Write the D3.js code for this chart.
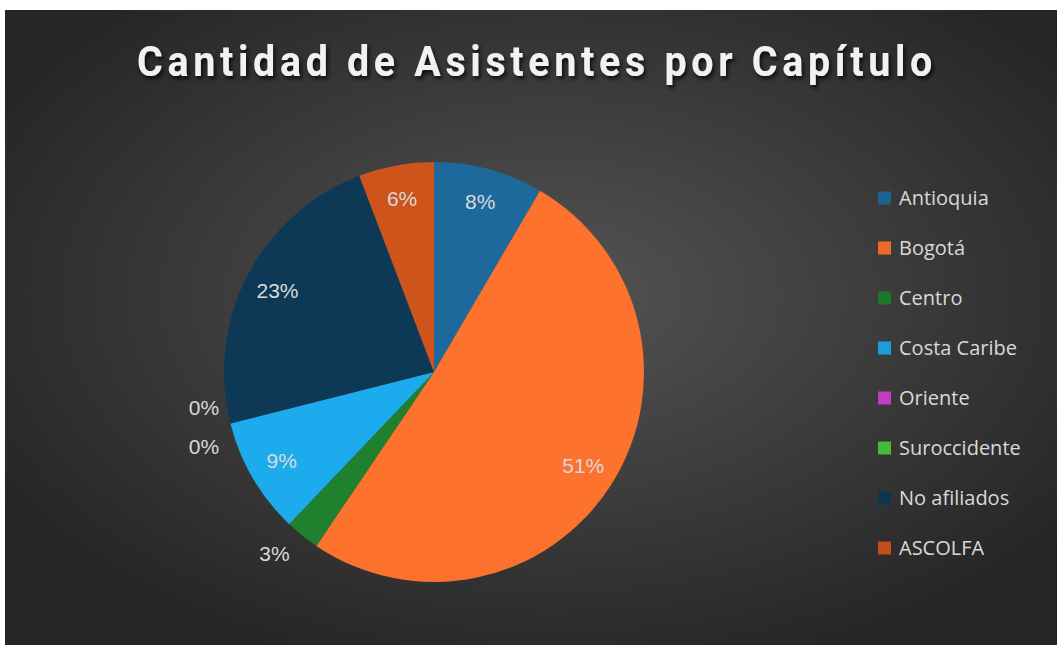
<!DOCTYPE html>
<html>
<head>
<meta charset="utf-8">
<script src="https://cdn.jsdelivr.net/npm/d3@7"></script>
<style>
  body { margin: 0; background: #ffffff; }
  #chart { display: block; }
</style>
</head>
<body>
<svg id="chart" width="1057" height="645"></svg>
<script>
//-----------------------------------------------------//

// Chart data
const title = "Cantidad de Asistentes por Capítulo";
const categories = ["Antioquia", "Bogotá", "Centro", "Costa Caribe", "Oriente", "Suroccidente", "No afiliados", "ASCOLFA"];
const attendees = [16, 97, 5, 17, 0, 0, 44, 11];
const sliceColors = ["#1c6290", "#ec6a2a", "#1d772a", "#1a9fdc", "#c03cc0", "#42bc3c", "#0d3550", "#c04e1a"];

// Layout
const width = 1057;
const height = 645;
const cx = 434;
const cy = 372;
const radius = 210;

var svg = null;
var defs = null;

//-----------------------------------------------------//

document.addEventListener("DOMContentLoaded", function()
{
  svg = d3.select("#chart");
  defs = svg.append("defs");

  drawBackground();
  drawTitle();
  drawPie();
  drawLegend();
})


function drawBackground()
{
  let bg = defs.append("radialGradient")
    .attr("id", "bg-grad")
    .attr("cx", "52%").attr("cy", "45%").attr("r", "62%");
  bg.append("stop").attr("offset", "0%").attr("stop-color", "#545454");
  bg.append("stop").attr("offset", "100%").attr("stop-color", "#252525");

  svg.append("rect")
    .attr("x", 5)
    .attr("y", 10)
    .attr("width", width - 5)
    .attr("height", height - 10)
    .attr("fill", "url(#bg-grad)");
}

function drawTitle()
{
  let shadow = defs.append("filter")
    .attr("id", "title-shadow")
    .attr("x", "-5%").attr("y", "-30%").attr("width", "110%").attr("height", "160%");
  shadow.append("feDropShadow")
    .attr("dx", 2).attr("dy", 3)
    .attr("stdDeviation", 2)
    .attr("flood-color", "#000000")
    .attr("flood-opacity", 0.75);

  svg.append("text")
    .attr("x", 537)
    .attr("y", 76)
    .attr("text-anchor", "middle")
    .attr("font-family", "Roboto, 'Liberation Sans', sans-serif")
    .attr("font-weight", "bold")
    .attr("font-size", 42)
    .attr("letter-spacing", 5)
    .attr("textLength", 800)
    .attr("lengthAdjust", "spacingAndGlyphs")
    .attr("fill", "#f2f2f2")
    .attr("filter", "url(#title-shadow)")
    .text(title);
}

function drawPie()
{
  let total = d3.sum(attendees);
  let data = categories.map((c, i) => ({ name: c, value: attendees[i], color: sliceColors[i] }));

  // One vertical gradient per slice, a bit lighter on top like the source
  data.forEach(function(d, i) {
    let g = defs.append("linearGradient")
      .attr("id", "slice-grad-" + i)
      .attr("gradientUnits", "userSpaceOnUse")
      .attr("x1", 0).attr("y1", cy - radius)
      .attr("x2", 0).attr("y2", cy + radius);
    g.append("stop").attr("offset", "0%").attr("stop-color", d3.color(d.color).brighter(0.2));
    g.append("stop").attr("offset", "100%").attr("stop-color", d3.color(d.color).darker(0.15));
  });

  let pie = d3.pie()
    .value(d => d.value)
    .sort(null);

  let arcs = pie(data);

  let arc = d3.arc()
    .innerRadius(0)
    .outerRadius(radius);

  let labelArc = d3.arc()
    .innerRadius(radius * 0.68)
    .outerRadius(radius);

  let outerArc = d3.arc()
    .innerRadius(radius * 1.11)
    .outerRadius(radius * 1.11);

  let pieGroup = svg.append("g").attr("transform", `translate(${cx},${cy})`);

  pieGroup.selectAll(".slice")
    .data(arcs)
    .enter().append("path")
    .attr("class", "slice")
    .attr("d", arc)
    .attr("fill", (d, i) => "url(#slice-grad-" + i + ")");

  // zero slices get stacked above / below each other outside the pie
  let zeroCount = 0;
  pieGroup.selectAll(".label")
    .data(arcs)
    .enter().append("text")
    .attr("class", "label")
    .attr("transform", function(d) {
      let share = d.data.value / total;
      if (share === 0) {
        let p = outerArc.centroid(d);
        let shift = zeroCount === 0 ? -22 : 17;
        zeroCount++;
        return `translate(${p[0] - 4},${p[1] + shift})`;
      }
      if (share < 0.04) {
        let p = d3.arc().innerRadius(radius * 1.15).outerRadius(radius * 1.15).centroid(d);
        return `translate(${p[0] - 8},${p[1] - 6})`;
      }
      return `translate(${labelArc.centroid(d)})`;
    })
    .attr("dy", "0.35em")
    .attr("text-anchor", "middle")
    .attr("font-family", "'Liberation Sans', Arial, sans-serif")
    .attr("font-size", 21)
    .attr("fill", "#d9d9d9")
    .text(d => Math.round(d.data.value / total * 100) + "%");
}

function drawLegend()
{
  let y = d3.scalePoint()
    .domain(categories)
    .range([198, 548]);

  let legend = svg.append("g").attr("class", "legend");

  let item = legend.selectAll(".item")
    .data(categories)
    .enter().append("g")
    .attr("class", "item")
    .attr("transform", d => `translate(878,${y(d)})`);

  item.append("rect")
    .attr("x", 0)
    .attr("y", -6.5)
    .attr("width", 13)
    .attr("height", 13)
    .attr("fill", (d, i) => sliceColors[i]);

  item.append("text")
    .attr("x", 21)
    .attr("dy", "0.35em")
    .attr("font-family", "'Open Sans', sans-serif")
    .attr("font-size", 20)
    .attr("fill", "#d9d9d9")
    .text(d => d);
}
</script>
</body>
</html>
